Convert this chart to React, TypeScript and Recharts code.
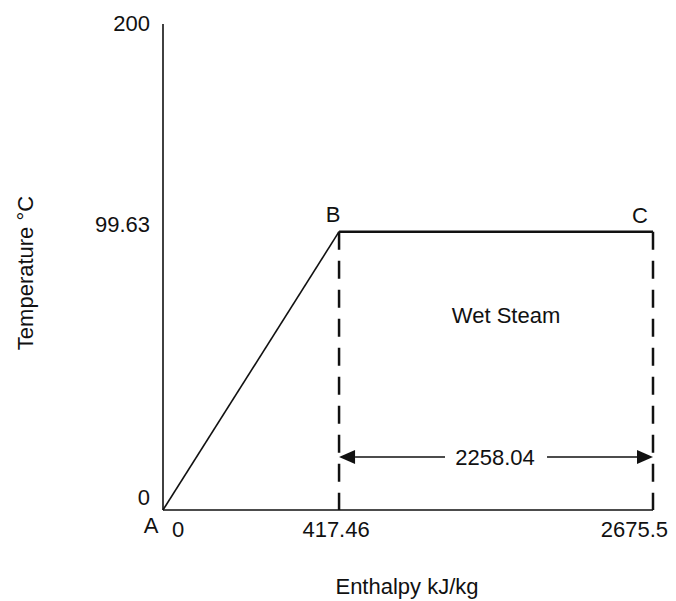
import React from 'react';
import { LineChart, Line, XAxis, YAxis, ReferenceLine, ReferenceArea, ReferenceDot } from 'recharts';

// heating curve of water at 1 atm
const enthalpy = [0, 417.46, 2675.5];
const temperature = [0, 99.63, 99.63];
const pointNames = ['A', 'B', 'C'];
const xTicks = [0, 417.46, 2675.5];
const yTicks = [0, 99.63, 200];
const regionName = 'Wet Steam';

const FONT = '"Liberation Sans", Arial, Helvetica, sans-serif';
const FS = 22;

// schematic (not to scale) axes: a simple power scale with d3-like api
function powScale(exponent: number) {
    let dom: number[] = [0, 1];
    let rng: number[] = [0, 1];
    const f = (v: number) => Math.sign(v) * Math.pow(Math.abs(v), exponent);
    const fi = (v: number) => Math.sign(v) * Math.pow(Math.abs(v), 1 / exponent);
    const scale: any = (v: any) => {
        const a = f(dom[0]);
        const b = f(dom[dom.length - 1]);
        return rng[0] + ((f(Number(v)) - a) / (b - a)) * (rng[rng.length - 1] - rng[0]);
    };
    scale.domain = (d?: any[]) => {
        if (d === undefined) return dom.slice();
        dom = d.map(Number);
        return scale;
    };
    scale.range = (r?: any[]) => {
        if (r === undefined) return rng.slice();
        rng = r.map(Number);
        return scale;
    };
    scale.invert = (p: number) => {
        const a = f(dom[0]);
        const b = f(dom[dom.length - 1]);
        const t = (p - rng[0]) / (rng[rng.length - 1] - rng[0]);
        return fi(a + t * (b - a));
    };
    scale.ticks = () => dom.slice();
    scale.tickFormat = () => (v: any) => String(v);
    scale.nice = () => scale;
    scale.clamp = () => scale;
    scale.copy = () => powScale(exponent).domain(dom).range(rng);
    return scale;
}

const xScale = powScale(0.551);
const yScale = powScale(0.8);

const points = enthalpy.map((h, i) => ({ h, t: temperature[i], name: pointNames[i] }));
const sensible = points.slice(0, 2);
const latent = points.slice(1);

const XTick = (props: any) => {
    const { x, y, payload, index } = props;
    const anchor = index === 0 ? 'start' : index === 2 ? 'end' : 'middle';
    const dx = index === 0 ? 9 : index === 2 ? 15 : -3;
    return (
        <text x={x + dx} y={y + 3} dy="0.71em" textAnchor={anchor} fontSize={FS} fontFamily={FONT} fill="#111">
            {payload.value}
        </text>
    );
};

const YTick = (props: any) => {
    const { y, payload, index } = props;
    const dy = [-13, -8, -1][index] ?? 0;
    return (
        <text x={150} y={y + dy} dy="0.355em" textAnchor="end" fontSize={FS} fontFamily={FONT} fill="#111">
            {payload.value}
        </text>
    );
};

const pointLabel = (name: string) => (props: any) => {
    const { viewBox } = props;
    const off: Record<string, [number, number]> = { A: [-12, 15], B: [-6, -18], C: [-13, -17] };
    const [dx, dy] = off[name];
    return (
        <text x={viewBox.x + dx} y={viewBox.y + dy} dy="0.355em" textAnchor="middle" fontSize={FS} fontFamily={FONT} fill="#111">
            {name}
        </text>
    );
};

const regionAnnotation = (props: any) => {
    const { x, y, width, height } = props.viewBox;
    const left = x;
    const right = x + width;
    const cx = x + width / 2;
    const ay = y + height - 53;
    const gap = 51;
    const head = 16;
    return (
        <g>
            <text x={cx + 10} y={y + 83} dy="0.355em" textAnchor="middle" fontSize={FS} fontFamily={FONT} fill="#111">
                {regionName}
            </text>
            <line x1={left + head} y1={ay} x2={cx - gap} y2={ay} stroke="#111" strokeWidth={1.5} />
            <line x1={cx + gap} y1={ay} x2={right - head} y2={ay} stroke="#111" strokeWidth={1.5} />
            <polygon points={`${left},${ay} ${left + head},${ay - 7} ${left + head},${ay + 7}`} fill="#111" />
            <polygon points={`${right},${ay} ${right - head},${ay - 7} ${right - head},${ay + 7}`} fill="#111" />
            <text x={cx - 1} y={ay} dy="0.355em" textAnchor="middle" fontSize={FS} fontFamily={FONT} fill="#111">
                {(enthalpy[2] - enthalpy[1]).toFixed(2)}
            </text>
        </g>
    );
};

export default function App() {
    return (
        <div style={{ position: 'absolute', left: 0, top: 0, background: '#fff' }}>
            <LineChart width={676} height={601} margin={{ top: 24, right: 23, bottom: 0, left: 0 }}>
                <XAxis
                    type="number"
                    dataKey="h"
                    domain={[0, 2675.5]}
                    ticks={xTicks}
                    scale={xScale}
                    height={91}
                    axisLine={{ stroke: '#111', strokeWidth: 1.6 }}
                    tickLine={false}
                    tick={<XTick />}
                    interval={0}
                    label={{
                        content: (p: any) => (
                            <text x={407} y={p.viewBox.y + 84} textAnchor="middle" fontSize={FS} fontFamily={FONT} fill="#111">
                                Enthalpy kJ/kg
                            </text>
                        ),
                    }}
                />
                <YAxis
                    type="number"
                    dataKey="t"
                    domain={[0, 200]}
                    ticks={yTicks}
                    scale={yScale}
                    width={163}
                    axisLine={{ stroke: '#111', strokeWidth: 1.6 }}
                    tickLine={false}
                    tick={<YTick />}
                    interval={0}
                    label={{
                        content: (p: any) => {
                            const cy = p.viewBox.y + p.viewBox.height / 2 + 6;
                            return (
                                <text x={25} y={cy} dy="0.355em" textAnchor="middle" transform={`rotate(-90 25 ${cy})`} fontSize={FS} fontFamily={FONT} fill="#111">
                                    Temperature °C
                                </text>
                            );
                        },
                    }}
                />
                <ReferenceArea x1={enthalpy[1]} x2={enthalpy[2]} y1={0} y2={temperature[1]} fill="none" stroke="none" label={regionAnnotation} />
                {[1, 2].map((i) => (
                    <ReferenceLine
                        key={i}
                        segment={[{ x: enthalpy[i], y: temperature[i] }, { x: enthalpy[i], y: 0 }]}
                        stroke="#111"
                        strokeWidth={2.5}
                        strokeDasharray="18 11"
                    />
                ))}
                <Line data={sensible} dataKey="t" stroke="#111" strokeWidth={1.6} dot={false} isAnimationActive={false} />
                <Line data={latent} dataKey="t" stroke="#111" strokeWidth={2.6} dot={false} isAnimationActive={false} />
                {points.map((p) => (
                    <ReferenceDot key={p.name} x={p.h} y={p.t} r={0} fill="none" stroke="none" label={pointLabel(p.name)} />
                ))}
            </LineChart>
        </div>
    );
}
